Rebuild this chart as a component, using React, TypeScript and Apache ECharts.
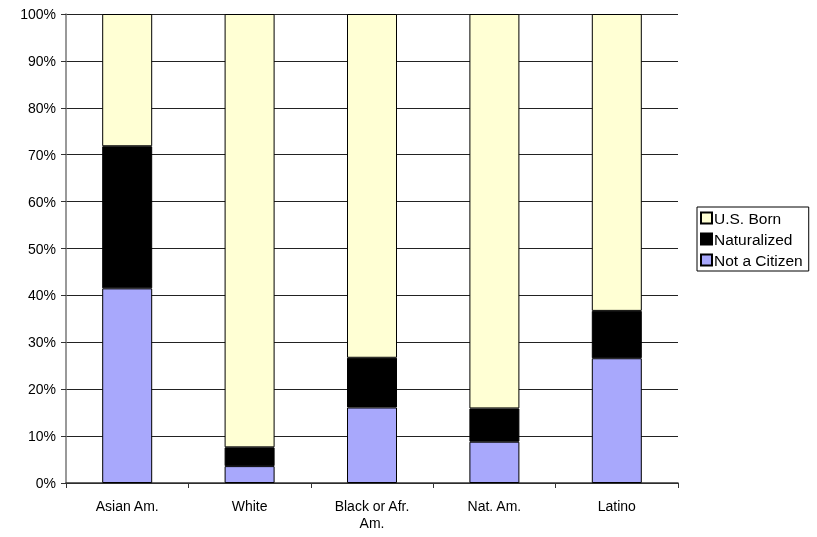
import React, { useEffect, useRef } from "react";
import * as echarts from "echarts";

const categories = ["Asian Am.", "White", "Black or Afr.\nAm.", "Nat. Am.", "Latino"];
const notCitizen = [41.5, 3.6, 16.1, 8.8, 26.6];
const naturalized = [30.3, 4.0, 10.6, 7.1, 10.1];
const usBorn = [28.2, 92.4, 73.3, 84.1, 63.3];

export default function App() {
  const ref = useRef<HTMLDivElement>(null);
  useEffect(() => {
    const chart = echarts.init(ref.current!, null, { renderer: "svg" });
    const font = "Liberation Sans, Arial, sans-serif";
    const mk = (name: string, data: number[], color: string) => ({
      name,
      type: "bar",
      stack: "a",
      data,
      barWidth: 50,
      itemStyle: { color, borderColor: "#000", borderWidth: 1 },
    });
    chart.setOption({
      animation: false,
      textStyle: { fontFamily: font },
      grid: { left: 66, top: 14, width: 612, height: 469 },
      xAxis: {
        type: "category",
        data: categories,
        axisLine: { lineStyle: { color: "#333", width: 1.5 } },
        axisTick: { show: true, length: 5, lineStyle: { color: "#333" } },
        axisLabel: { color: "#000", fontSize: 14, margin: 14, lineHeight: 17 },
      },
      yAxis: {
        type: "value",
        min: 0,
        max: 100,
        interval: 10,
        axisLine: { show: true, lineStyle: { color: "#777", width: 1.5 } },
        axisTick: { show: true, length: 5, lineStyle: { color: "#333" } },
        axisLabel: { color: "#000", fontSize: 14, formatter: "{value}%", margin: 10 },
        splitLine: { lineStyle: { color: "#222", width: 1 } },
      },
      legend: {
        orient: "vertical",
        left: 697,
        top: 207,
        padding: [3, 6, 3, 3],
        itemGap: 5,
        itemWidth: 11,
        itemHeight: 11,
        borderColor: "#000",
        borderWidth: 1,
        backgroundColor: "#fff",
        data: ["U.S. Born", "Naturalized", "Not a Citizen"],
        textStyle: { fontSize: 15.5, color: "#000", padding: [0, 0, 0, -3] },
        icon: "rect",
      },
      series: [
        mk("Not a Citizen", notCitizen, "#a8a8fc"),
        mk("Naturalized", naturalized, "#000000"),
        mk("U.S. Born", usBorn, "#ffffd4"),
      ],
    });
    return () => chart.dispose();
  }, []);
  return <div ref={ref} style={{ position: "fixed", left: 0, top: 0, width: 817, height: 537 }} />;
}
